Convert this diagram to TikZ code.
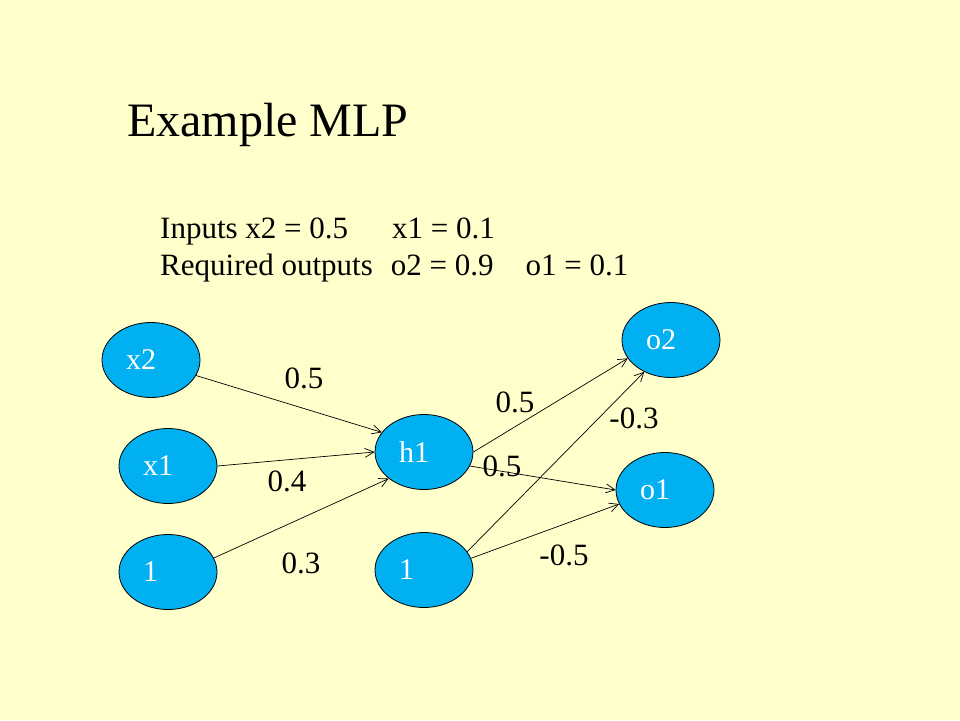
\documentclass[tikz,border=0pt]{standalone}
\usepackage{fontspec}
\setmainfont{Liberation Serif}
\usetikzlibrary{shapes.geometric,arrows.meta}
\definecolor{bgyellow}{RGB}{255,255,204}
\definecolor{nblue}{RGB}{0,176,240}
\tikzset{
  neuron/.style={ellipse, draw=black, line width=0.8pt, fill=nblue, minimum width=98pt, minimum height=75pt,
    inner sep=0pt, text width=50pt, align=left, text=white, font=\fontsize{30}{32}\selectfont},
  wlabel/.style={inner sep=0pt, font=\fontsize{31}{33}\selectfont},
  conn/.style={draw=black, line width=0.7pt, -{Straight Barb[length=9pt,width=9pt]}},
  plaintext/.style={inner sep=0pt, anchor=base west, font=\fontsize{31}{33}\selectfont}
}
\begin{document}
\begin{tikzpicture}[x=1pt,y=-1pt]
\fill[bgyellow] (0,0) rectangle (960,720);
\useasboundingbox (0,0) rectangle (960,720);
\node[inner sep=0pt, anchor=base west, font=\fontsize{48}{50}\selectfont] (title) at (127,136) {Example MLP};
\node[plaintext] (inputs) at (160,238) {Inputs x2 = 0.5\hspace{44pt}x1 = 0.1};
\node[plaintext] (req) at (160,275) {Required outputs\hspace{18pt}o2 = 0.9\hspace{32pt}o1 = 0.1};

\node[neuron] (x2) at (151,360) {x2};
\node[neuron] (x1) at (168,466) {x1};
\node[neuron] (b1) at (168,572) {1};
\node[neuron] (h1) at (424,452) {h1};
\node[neuron] (b2) at (424,570) {1};
\node[neuron] (o2) at (671,340) {o2};
\node[neuron] (o1) at (665,490) {o1};

\draw[conn] (x2.-19) -- (h1.155);
\draw[conn] (x1.east) -- (h1.west);
\draw[conn] (b1.17) -- (h1.-143);
\draw[conn] (h1.east) -- (o2.-157);
\draw[conn] (h1.-17) -- (o1.west);
\draw[conn] (b2.23) -- (o2.-130);
\draw[conn] (b2.14) -- (o1.-163);

\node[wlabel] (w1) at (304,378) {0.5};
\node[wlabel] (w2) at (287,481) {0.4};
\node[wlabel] (w3) at (301,563) {0.3};
\node[wlabel] (w4) at (515,402) {0.5};
\node[wlabel] (w5) at (634,418) {-0.3};
\node[wlabel] (w6) at (502,466) {0.5};
\node[wlabel] (w7) at (564,555) {-0.5};
\end{tikzpicture}
\end{document}
